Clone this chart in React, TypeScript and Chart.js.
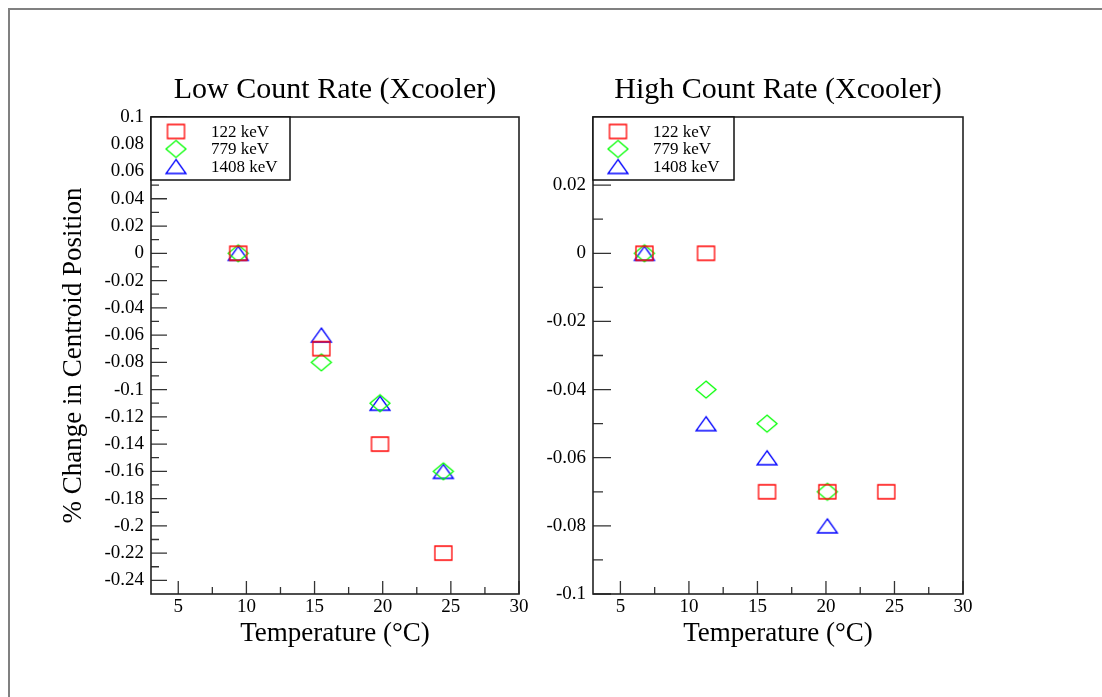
import React, { useEffect, useRef } from 'react';
import { Chart, registerables } from 'chart.js';

Chart.register(...registerables);

// ---------------- data ----------------
const SERIES_LABELS = ['122 keV', '779 keV', '1408 keV'];
const SERIES_COLORS = ['#ff0000', '#00ff00', '#0000ff'];

// Low count rate panel
const lowTemps = [9.4, 15.5, 19.8, 24.45];
const low122 = [0, -0.07, -0.14, -0.22];
const low779 = [0, -0.08, -0.11, -0.16];
const low1408 = [0, -0.06, -0.11, -0.16];

// High count rate panel
const high122Temps = [6.75, 11.25, 15.7, 20.1, 24.4];
const high122 = [0, 0, -0.07, -0.07, -0.07];
const highTemps = [6.75, 11.25, 15.7, 20.1];
const high779 = [0, -0.04, -0.05, -0.07];
const high1408 = [0, -0.05, -0.06, -0.08];

// axes
const X_MIN = 3;
const X_MAX = 30;
const xTickLabels = [5, 10, 15, 20, 25, 30];
const LOW_Y_MIN = -0.25;
const LOW_Y_MAX = 0.1;
const lowYTickLabels = [0.1, 0.08, 0.06, 0.04, 0.02, 0, -0.02, -0.04, -0.06, -0.08, -0.1, -0.12, -0.14, -0.16, -0.18, -0.2, -0.22, -0.24];
const HIGH_Y_MIN = -0.1;
const HIGH_Y_MAX = 0.04;
const highYTickLabels = [0.02, 0, -0.02, -0.04, -0.06, -0.08, -0.1];

const TITLE_LOW = 'Low Count Rate (Xcooler)';
const TITLE_HIGH = 'High Count Rate (Xcooler)';
const X_TITLE = 'Temperature (°C)';
const Y_TITLE = '% Change in Centroid Position';

// ---------------- styling ----------------
const W = 1102;
const H = 697;
const FONT = "'Liberation Serif', 'Times New Roman', serif";

type Kind = 'square' | 'diamond' | 'triangle';
const KINDS: Kind[] = ['square', 'diamond', 'triangle'];

function makeMarker(kind: Kind, color: string): HTMLCanvasElement {
  const dims: Record<Kind, [number, number]> = {
    square: [17, 14],
    diamond: [20, 17],
    triangle: [20, 14],
  };
  const [w, h] = dims[kind];
  const c = document.createElement('canvas');
  c.width = w + 4;
  c.height = h + 4;
  const ctx = c.getContext('2d')!;
  ctx.strokeStyle = color;
  ctx.lineWidth = 1.3;
  const x0 = 2;
  const y0 = 2;
  ctx.beginPath();
  if (kind === 'square') {
    ctx.rect(x0, y0, w, h);
  } else if (kind === 'diamond') {
    ctx.moveTo(x0 + w / 2, y0);
    ctx.lineTo(x0 + w, y0 + h / 2);
    ctx.lineTo(x0 + w / 2, y0 + h);
    ctx.lineTo(x0, y0 + h / 2);
    ctx.closePath();
  } else {
    ctx.moveTo(x0 + w / 2, y0);
    ctx.lineTo(x0 + w, y0 + h);
    ctx.lineTo(x0, y0 + h);
    ctx.closePath();
  }
  ctx.stroke();
  return c;
}

const fmt = (v: number) => String(parseFloat(Number(v).toFixed(3)));

function midpoints(vals: number[]): number[] {
  const s = [...vals].sort((a, b) => a - b);
  const out: number[] = [];
  for (let i = 0; i < s.length - 1; i++) out.push((s[i] + s[i + 1]) / 2);
  return out;
}

function framePlugin(opts: {
  xMajor: number; xMinor: number; yMajor: number; yMinor: number; legendWidth: number;
}) {
  return {
    id: 'rootFrame',
    beforeDatasetsDraw(chart: any) {
      const { ctx, chartArea: a, scales } = chart;
      const xs = scales.x;
      const ys = scales.y;
      const xMaj = xs.ticks.map((t: any) => t.value);
      const yMaj = ys.ticks.map((t: any) => t.value);
      ctx.save();
      ctx.strokeStyle = '#333';
      ctx.lineWidth = 1.3;
      ctx.beginPath();
      xMaj.forEach((v: number) => {
        const p = xs.getPixelForValue(v);
        ctx.moveTo(p, a.bottom);
        ctx.lineTo(p, a.bottom - opts.xMajor);
      });
      midpoints(xMaj).forEach((v: number) => {
        const p = xs.getPixelForValue(v);
        ctx.moveTo(p, a.bottom);
        ctx.lineTo(p, a.bottom - opts.xMinor);
      });
      yMaj.forEach((v: number) => {
        const p = ys.getPixelForValue(v);
        ctx.moveTo(a.left, p);
        ctx.lineTo(a.left + opts.yMajor, p);
      });
      midpoints(yMaj).forEach((v: number) => {
        const p = ys.getPixelForValue(v);
        ctx.moveTo(a.left, p);
        ctx.lineTo(a.left + opts.yMinor, p);
      });
      ctx.stroke();
      ctx.lineWidth = 1.6;
      ctx.strokeStyle = '#222';
      ctx.strokeRect(a.left, a.top, a.right - a.left, a.bottom - a.top);
      ctx.restore();
    },
    afterDatasetsDraw(chart: any) {
      const { ctx, chartArea: a } = chart;
      const ds = chart.data.datasets;
      const bw = opts.legendWidth;
      const bh = 63;
      ctx.save();
      ctx.fillStyle = '#fff';
      ctx.fillRect(a.left, a.top, bw, bh);
      ctx.strokeStyle = '#111';
      ctx.lineWidth = 1.5;
      ctx.strokeRect(a.left, a.top, bw, bh);
      ctx.font = `17px ${FONT}`;
      ctx.fillStyle = '#000';
      ctx.textBaseline = 'middle';
      ctx.textAlign = 'left';
      ds.forEach((d: any, i: number) => {
        const cy = a.top + 14.5 + i * 17.5;
        const img = d.pointStyle as HTMLCanvasElement;
        ctx.drawImage(img, a.left + 25 - img.width / 2, cy - img.height / 2);
        ctx.fillText(d.label, a.left + 60, cy + 1);
      });
      ctx.restore();
    },
  };
}

function makeConfig(params: {
  title: string;
  series: { x: number[]; y: number[] }[];
  yMin: number;
  yMax: number;
  yTicks: number[];
  yAxisWidth: number;
  rightPad: number;
  showYTitle: boolean;
  markers: HTMLCanvasElement[];
  ticks: { xMajor: number; xMinor: number; yMajor: number; yMinor: number; legendWidth: number };
}): any {
  const datasets = params.series.map((s, i) => ({
    label: SERIES_LABELS[i],
    data: s.x.map((x, j) => ({ x, y: s.y[j] })),
    pointStyle: params.markers[i],
    pointRadius: 8,
    borderColor: SERIES_COLORS[i],
    backgroundColor: 'rgba(0,0,0,0)',
    showLine: false,
  }));
  const tickFont = { family: FONT, size: 19 };
  return {
    type: 'scatter',
    data: { datasets },
    options: {
      responsive: false,
      animation: false,
      events: [],
      layout: { padding: { left: 0, top: 0, right: params.rightPad, bottom: 0 } },
      plugins: {
        legend: { display: false },
        tooltip: { enabled: false },
        title: {
          display: !!params.title,
          text: params.title,
          fullSize: false,
          color: '#000',
          font: { family: FONT, size: 30, weight: 'normal' },
          padding: { top: 72, bottom: 9 },
        },
      },
      scales: {
        x: {
          type: 'linear',
          min: X_MIN,
          max: X_MAX,
          afterBuildTicks: (s: any) => {
            s.ticks = xTickLabels.map((v) => ({ value: v }));
          },
          afterFit: (s: any) => {
            s.height = H - 594;
          },
          grid: { display: false, drawTicks: false },
          border: { display: false },
          ticks: {
            font: tickFont,
            color: '#000',
            padding: 2,
            maxRotation: 0,
            autoSkip: false,
            callback: (v: any) => fmt(v),
          },
          title: {
            display: true,
            text: X_TITLE,
            color: '#000',
            font: { family: FONT, size: 27 },
            padding: { top: 0, bottom: 47 },
          },
        },
        y: {
          type: 'linear',
          min: params.yMin,
          max: params.yMax,
          afterBuildTicks: (s: any) => {
            s.ticks = params.yTicks.map((v) => ({ value: v }));
          },
          afterFit: (s: any) => {
            s.width = params.yAxisWidth;
          },
          grid: { display: false, drawTicks: false },
          border: { display: false },
          ticks: {
            font: tickFont,
            color: '#000',
            padding: 7,
            autoSkip: false,
            callback: (v: any) => fmt(v),
          },
          title: {
            display: params.showYTitle,
            text: Y_TITLE,
            color: '#000',
            font: { family: FONT, size: 27 },
            padding: { top: 58, bottom: 0 },
          },
        },
      },
    },
    plugins: [framePlugin(params.ticks)],
  };
}

export default function App() {
  const leftRef = useRef<HTMLCanvasElement>(null);
  const rightRef = useRef<HTMLCanvasElement>(null);

  useEffect(() => {
    const markers = KINDS.map((k, i) => makeMarker(k, SERIES_COLORS[i]));
    const left = new Chart(
      leftRef.current!,
      makeConfig({
        title: TITLE_LOW,
        series: [
          { x: lowTemps, y: low122 },
          { x: lowTemps, y: low779 },
          { x: lowTemps, y: low1408 },
        ],
        yMin: LOW_Y_MIN,
        yMax: LOW_Y_MAX,
        yTicks: lowYTickLabels,
        yAxisWidth: 151,
        rightPad: W - 519,
        showYTitle: true,
        markers,
        ticks: { xMajor: 13, xMinor: 7, yMajor: 16, yMinor: 8, legendWidth: 139 },
      })
    );
    const right = new Chart(
      rightRef.current!,
      makeConfig({
        title: TITLE_HIGH,
        series: [
          { x: high122Temps, y: high122 },
          { x: highTemps, y: high779 },
          { x: highTemps, y: high1408 },
        ],
        yMin: HIGH_Y_MIN,
        yMax: HIGH_Y_MAX,
        yTicks: highYTickLabels,
        yAxisWidth: 593,
        rightPad: W - 963,
        showYTitle: false,
        markers,
        ticks: { xMajor: 13, xMinor: 7, yMajor: 18, yMinor: 10, legendWidth: 141 },
      })
    );
    return () => {
      left.destroy();
      right.destroy();
    };
  }, []);

  return (
    <div
      style={{
        position: 'fixed',
        left: 0,
        top: 0,
        width: W,
        height: H,
        background: '#fff',
        overflow: 'hidden',
      }}
    >
      <div
        style={{
          position: 'absolute',
          left: 8,
          top: 8,
          right: 0,
          bottom: 0,
          borderTop: '2px solid #808080',
          borderLeft: '2px solid #808080',
        }}
      />
      <canvas
        ref={leftRef}
        width={W}
        height={H}
        style={{ position: 'absolute', left: 0, top: 0, width: W, height: H }}
      />
      <canvas
        ref={rightRef}
        width={W}
        height={H}
        style={{ position: 'absolute', left: 0, top: 0, width: W, height: H }}
      />
    </div>
  );
}
